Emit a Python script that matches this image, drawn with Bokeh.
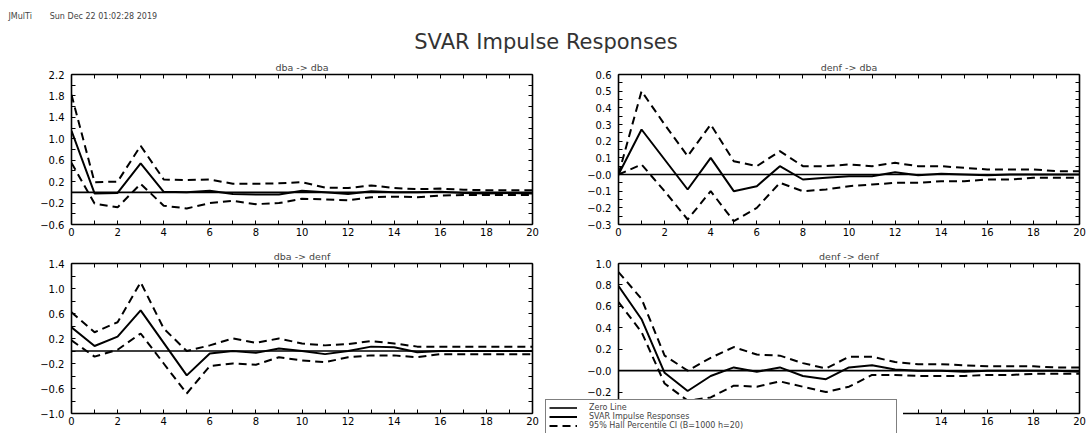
from bokeh.plotting import figure
from bokeh.models import LinearAxis, FixedTicker, Title, Legend, LegendItem, Range1d
from bokeh.layouts import column, row
from bokeh.embed import file_html
from bokeh.resources import INLINE

# ---------------- data ----------------
PERIODS = [0, 1, 2, 3, 4, 5, 6, 7, 8, 9, 10, 11, 12, 13, 14, 15, 16, 17, 18, 19, 20]
ZERO_LINE = [0.0] * len(PERIODS)

DBA_DBA_RESP = [1.15, -0.02, -0.01, 0.54, 0.01, 0.0, 0.03, -0.03, -0.04, -0.04, 0.03,
                0.0, -0.03, 0.02, 0.0, 0.0, 0.01, -0.01, -0.02, -0.01, -0.02]
DBA_DBA_HI = [1.82, 0.19, 0.2, 0.87, 0.24, 0.23, 0.24, 0.16, 0.16, 0.17, 0.19,
              0.09, 0.08, 0.13, 0.08, 0.06, 0.07, 0.05, 0.04, 0.04, 0.04]
DBA_DBA_LO = [0.55, -0.21, -0.28, 0.16, -0.25, -0.3, -0.2, -0.16, -0.22, -0.2, -0.12,
              -0.13, -0.15, -0.09, -0.08, -0.09, -0.06, -0.05, -0.05, -0.05, -0.05]

DENF_DBA_RESP = [0.0, 0.27, 0.09, -0.09, 0.1, -0.1, -0.07, 0.05, -0.03, -0.02, -0.01,
                 -0.01, 0.014, -0.005, 0.005, 0.0, -0.005, 0.0, 0.0, 0.0, 0.0]
DENF_DBA_HI = [0.0, 0.5, 0.3, 0.11, 0.3, 0.08, 0.05, 0.14, 0.05, 0.05, 0.06,
               0.05, 0.07, 0.05, 0.05, 0.04, 0.03, 0.03, 0.03, 0.02, 0.02]
DENF_DBA_LO = [0.0, 0.06, -0.1, -0.27, -0.1, -0.28, -0.2, -0.05, -0.1, -0.09, -0.07,
               -0.06, -0.05, -0.05, -0.04, -0.04, -0.03, -0.03, -0.02, -0.02, -0.02]

DBA_DENF_RESP = [0.38, 0.08, 0.23, 0.65, 0.13, -0.39, -0.04, 0.0, -0.03, 0.04, 0.0,
                 -0.05, 0.0, 0.07, 0.06, -0.02, 0.0, 0.0, 0.0, 0.0, 0.0]
DBA_DENF_HI = [0.62, 0.3, 0.46, 1.1, 0.36, 0.0, 0.09, 0.2, 0.13, 0.2, 0.12,
               0.09, 0.11, 0.16, 0.12, 0.07, 0.07, 0.07, 0.07, 0.07, 0.07]
DBA_DENF_LO = [0.17, -0.09, 0.02, 0.28, -0.2, -0.68, -0.24, -0.2, -0.22, -0.1, -0.15,
               -0.18, -0.1, -0.07, -0.07, -0.1, -0.05, -0.05, -0.05, -0.05, -0.05]

DENF_DENF_RESP = [0.79, 0.48, -0.02, -0.19, -0.05, 0.03, -0.01, 0.03, -0.05, -0.08, 0.03,
                  0.05, 0.01, 0.0, 0.0, -0.01, 0.0, 0.0, 0.0, 0.0, -0.01]
DENF_DENF_HI = [0.92, 0.67, 0.14, 0.0, 0.12, 0.22, 0.15, 0.14, 0.07, 0.02, 0.13,
                0.13, 0.08, 0.06, 0.06, 0.05, 0.04, 0.04, 0.04, 0.03, 0.03]
DENF_DENF_LO = [0.64, 0.36, -0.12, -0.28, -0.25, -0.14, -0.15, -0.1, -0.15, -0.2, -0.15,
                -0.04, -0.04, -0.05, -0.05, -0.05, -0.04, -0.04, -0.03, -0.03, -0.03]

X_TICKS = [0, 2, 4, 6, 8, 10, 12, 14, 16, 18, 20]
X_TICK_LABELS = ["0", "2", "4", "6", "8", "10", "12", "14", "16", "18", "20"]

DBA_DBA_YTICKS = [-0.6, -0.2, 0.2, 0.6, 1.0, 1.4, 1.8, 2.2]
DBA_DBA_YLABELS = ["\u22120.6", "\u22120.2", "0.2", "0.6", "1.0", "1.4", "1.8", "2.2"]
DENF_DBA_YTICKS = [-0.3, -0.2, -0.1, 0.0, 0.1, 0.2, 0.3, 0.4, 0.5, 0.6]
DENF_DBA_YLABELS = ["\u22120.3", "\u22120.2", "\u22120.1", "\u22120.0", "0.1", "0.2",
                    "0.3", "0.4", "0.5", "0.6"]
DBA_DENF_YTICKS = [-1.0, -0.6, -0.2, 0.2, 0.6, 1.0, 1.4]
DBA_DENF_YLABELS = ["\u22121.0", "\u22120.6", "\u22120.2", "0.2", "0.6", "1.0", "1.4"]
DENF_DENF_YTICKS = [-0.4, -0.2, 0.0, 0.2, 0.4, 0.6, 0.8, 1.0]
DENF_DENF_YLABELS = ["\u22120.4", "\u22120.2", "\u22120.0", "0.2", "0.4", "0.6", "0.8", "1.0"]

HEADER_TEXT = "JMulTi\u00a0\u00a0\u00a0\u00a0\u00a0\u00a0\u00a0Sun Dec 22 01:02:28 2019"
MAIN_TITLE = "SVAR Impulse Responses"
LEGEND_LABELS = ["Zero Line", "SVAR Impulse Responses", "95% Hall Percentile CI (B=1000 h=20)"]

FONT = "DejaVu Sans"
CI_DASH = "8 5"


def midpoints(t):
    return [(a + b) / 2 for a, b in zip(t[:-1], t[1:])]


def style_axis(ax, labels):
    ax.major_tick_in = 4
    ax.major_tick_out = 0
    ax.minor_tick_in = 4
    ax.minor_tick_out = 0
    ax.major_tick_line_width = 1
    ax.minor_tick_line_width = 1
    ax.axis_line_width = 1.6
    ax.axis_line_color = "black"
    if labels:
        ax.major_label_text_font = FONT
        ax.major_label_text_font_size = "10px"
        ax.major_label_text_color = "black"
    else:
        ax.major_label_text_color = None
        ax.major_label_text_font_size = "1px"
        ax.major_label_standoff = 0


def make_panel(title, resp, lo, hi, yticks, ylabels, yminor, l, r, t, b):
    p = figure(frame_width=461, frame_height=150,
               min_border_left=l, min_border_right=r, min_border_top=t, min_border_bottom=b,
               x_range=Range1d(PERIODS[0], PERIODS[-1]),
               y_range=Range1d(yticks[0], yticks[-1]),
               x_axis_type=None, y_axis_type=None,
               toolbar_location=None, output_backend="svg")
    p.outline_line_color = None

    xt = FixedTicker(ticks=X_TICKS, minor_ticks=midpoints(X_TICKS))
    yt = FixedTicker(ticks=yticks, minor_ticks=yminor)

    bottom = LinearAxis(ticker=xt, major_label_overrides=dict(zip(X_TICKS, X_TICK_LABELS)))
    style_axis(bottom, True)
    bottom.major_label_standoff = 3
    left = LinearAxis(ticker=yt, major_label_overrides=dict(zip(yticks, ylabels)))
    style_axis(left, True)
    left.major_label_standoff = 7
    top = LinearAxis(ticker=xt)
    style_axis(top, False)
    right = LinearAxis(ticker=yt)
    style_axis(right, False)
    p.add_layout(bottom, "below")
    p.add_layout(left, "left")
    p.add_layout(top, "above")
    p.add_layout(right, "right")

    p.title.text = title
    p.title.align = "center"
    p.title.text_font = FONT
    p.title.text_font_size = "9.5px"
    p.title.text_font_style = "normal"
    p.title.standoff = 4

    p.line(PERIODS, ZERO_LINE, line_color="black", line_width=1.6)
    p.line(PERIODS, resp, line_color="black", line_width=2)
    p.line(PERIODS, hi, line_color="black", line_width=2, line_dash=CI_DASH)
    p.line(PERIODS, lo, line_color="black", line_width=2, line_dash=CI_DASH)
    return p


tl = make_panel("dba -> dba", DBA_DBA_RESP, DBA_DBA_LO, DBA_DBA_HI,
                DBA_DBA_YTICKS, DBA_DBA_YLABELS, midpoints(DBA_DBA_YTICKS),
                71, 8, 20, 16)
tr = make_panel("denf -> dba", DENF_DBA_RESP, DENF_DBA_LO, DENF_DBA_HI,
                DENF_DBA_YTICKS, DENF_DBA_YLABELS, midpoints(DENF_DBA_YTICKS),
                78, 12, 20, 16)
bl = make_panel("dba -> denf", DBA_DENF_RESP, DBA_DENF_LO, DBA_DENF_HI,
                DBA_DENF_YTICKS, DBA_DENF_YLABELS, midpoints(DBA_DENF_YTICKS),
                71, 8, 23, 21)
br = make_panel("denf -> denf", DENF_DENF_RESP, DENF_DENF_LO, DENF_DENF_HI,
                DENF_DENF_YTICKS, DENF_DENF_YLABELS, [],
                78, 12, 23, 21)

# ---- legend (its own small figure, laid over the lower part of the page) ----
lg = figure(width=358, height=34, min_border=0, x_axis_type=None, y_axis_type=None,
            x_range=Range1d(100, 101), y_range=Range1d(100, 101),
            toolbar_location=None, output_backend="svg", margin=(-35, 0, 0, 545))
lg.outline_line_color = None
r_zero = lg.line(PERIODS, ZERO_LINE, line_color="black", line_width=1.6)
r_resp = lg.line(PERIODS, DENF_DENF_RESP, line_color="black", line_width=2)
r_ci = lg.line(PERIODS, DENF_DENF_HI, line_color="black", line_width=2, line_dash=CI_DASH)
legend = Legend(items=[LegendItem(label=LEGEND_LABELS[0], renderers=[r_zero]),
                       LegendItem(label=LEGEND_LABELS[1], renderers=[r_resp]),
                       LegendItem(label=LEGEND_LABELS[2], renderers=[r_ci])],
                location="top_left", orientation="vertical",
                label_text_font=FONT, label_text_font_size="8px",
                label_height=9, glyph_height=9, glyph_width=28, label_standoff=12,
                label_width=304, spacing=0, padding=3, margin=0,
                border_line_color="black", border_line_width=1,
                background_fill_color="white", background_fill_alpha=1.0)
lg.add_layout(legend)

# ---- header ----
header = figure(width=1091, frame_height=1, min_border_top=53, min_border_bottom=0,
                min_border_left=0, min_border_right=0,
                x_axis_type=None, y_axis_type=None,
                toolbar_location=None, output_backend="svg")
header.outline_line_color = None
header.title.text = HEADER_TEXT
header.title.align = "left"
header.title.offset = 8
header.title.text_font = FONT
header.title.text_font_size = "8px"
header.title.text_font_style = "normal"
header.title.standoff = 14
header.add_layout(Title(text=MAIN_TITLE, align="center", text_font=FONT,
                        text_font_size="21px", text_font_style="normal",
                        text_color="#333333", standoff=0), "above")

layout = column(header, row(tl, tr), row(bl, br), lg)

open("out.html", "w").write(file_html(layout, INLINE))
